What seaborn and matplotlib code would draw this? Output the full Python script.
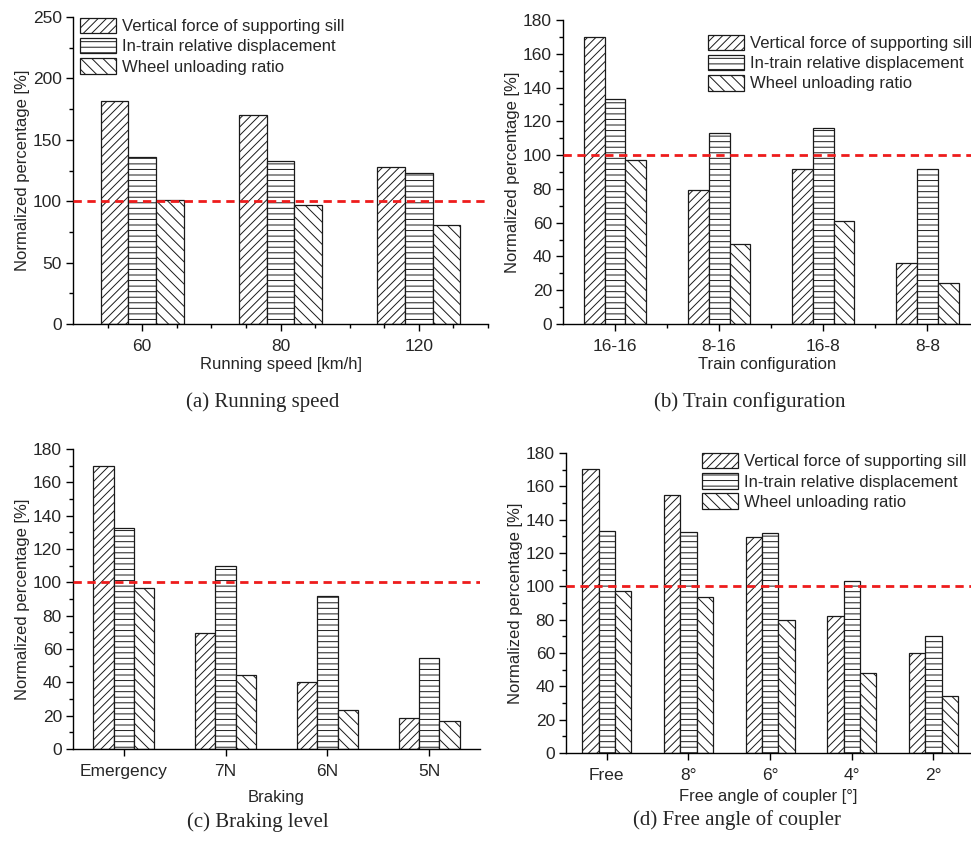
import matplotlib
matplotlib.use("Agg")
import matplotlib.pyplot as plt
import seaborn as sns
import pandas as pd
import numpy as np
from matplotlib.patches import Patch
from matplotlib.ticker import MultipleLocator, FixedLocator

# ---------------- data ----------------
series = ["Vertical force of supporting sill",
          "In-train relative displacement",
          "Wheel unloading ratio"]

speed_cats = ["60", "80", "120"]
speed_sill = [182, 170, 128]
speed_disp = [136, 133, 123]
speed_wheel = [101, 97, 81]

config_cats = ["16-16", "8-16", "16-8", "8-8"]
config_sill = [170, 79.5, 92, 36]
config_disp = [133, 113, 116, 91.5]
config_wheel = [97, 47.5, 61, 24]

brake_cats = ["Emergency", "7N", "6N", "5N"]
brake_sill = [170, 69.5, 40.5, 18.5]
brake_disp = [132.5, 110, 92, 54.5]
brake_wheel = [96.5, 44.5, 23.5, 17]

angle_cats = ["Free", "8°", "6°", "4°", "2°"]
angle_sill = [170.5, 155, 129.5, 82.5, 60]
angle_disp = [133, 132.5, 132, 103, 70.5]
angle_wheel = [97, 93.5, 80, 48, 34.5]

hatches = ["////", "---", "\\\\\\"]

sns.set_style("ticks")
plt.rcParams["font.family"] = ["Liberation Sans", "DejaVu Sans"]
plt.rcParams["hatch.linewidth"] = 0.7
plt.rcParams["axes.linewidth"] = 1.0

W, H = 971, 844
fig = plt.figure(figsize=(W / 100, H / 100), dpi=100)


def ax_px(left, top, right, bottom):
    return fig.add_axes([left / W, 1 - bottom / H, (right - left) / W, (bottom - top) / H])


def panel(ax, cats, vals, xlabel, ylim, ymajor, yminor, xlim, xminor=None,
          legend_anchor=None, xlabelpad=2):
    rows = []
    for s, v in zip(series, vals):
        for c, y in zip(cats, v):
            rows.append({"cat": c, "series": s, "value": y})
    df = pd.DataFrame(rows)
    sns.barplot(data=df, x="cat", y="value", hue="series", order=cats,
                hue_order=series, width=0.6, ax=ax, legend=False,
                palette=["white"] * 3, edgecolor="#1a1a1a", linewidth=0.9,
                errorbar=None, saturation=1)
    for cont, h in zip(ax.containers, hatches):
        for p in cont:
            p.set_hatch(h)
            p.set_facecolor("white")
            p.set_edgecolor("#1a1a1a")
    ax.axhline(100, color="#ee1c1c", lw=2, linestyle=(0, (3, 2)), zorder=5)
    ax.set_ylim(*ylim)
    ax.set_xlim(*xlim)
    ax.yaxis.set_major_locator(MultipleLocator(ymajor))
    ax.yaxis.set_minor_locator(MultipleLocator(yminor))
    if xminor is not None:
        ax.xaxis.set_minor_locator(FixedLocator(xminor))
    ax.set_xlabel(xlabel, fontsize=12, labelpad=xlabelpad)
    ax.set_ylabel("Normalized percentage [%]", fontsize=12, labelpad=2)
    ax.tick_params(axis="both", which="major", direction="out", length=5,
                   width=1, labelsize=12.5, color="black", pad=3)
    ax.tick_params(axis="both", which="minor", direction="out", length=3,
                   width=1, color="black")
    ax.tick_params(axis="x", which="major", pad=6)
    for s in ["top", "right"]:
        ax.spines[s].set_visible(False)
    for s in ["left", "bottom"]:
        ax.spines[s].set_color("black")
    if legend_anchor is not None:
        handles = [Patch(facecolor="white", edgecolor="#1a1a1a", hatch=h,
                         linewidth=0.9) for h in hatches]
        ax.legend(handles, series, loc="upper left", bbox_to_anchor=legend_anchor,
                  frameon=False, fontsize=12, borderpad=0, borderaxespad=0,
                  handlelength=2.15, handleheight=1.05, handletextpad=0.35,
                  labelspacing=0.22)


ax_a = ax_px(73, 17, 488, 324)
panel(ax_a, speed_cats, [speed_sill, speed_disp, speed_wheel],
      "Running speed [km/h]", (0, 250), 50, 25, (-0.5, 2.5),
      xminor=[-0.25, 0.25, 0.5, 0.75, 1.25, 1.5, 1.75, 2.25, 2.5],
      legend_anchor=(0.017, 0.997))

ax_b = ax_px(563, 20, 971, 324)
panel(ax_b, config_cats, [config_sill, config_disp, config_wheel],
      "Train configuration", (0, 180), 20, 10, (-0.5, 3.42),
      xminor=[0.5, 1.5, 2.5], legend_anchor=(0.355, 0.951))

ax_c = ax_px(73, 449, 480, 749)
panel(ax_c, brake_cats, [brake_sill, brake_disp, brake_wheel],
      "Braking", (0, 180), 20, 10, (-0.5, 3.5), xlabelpad=8)

ax_d = ax_px(566, 453, 971, 753)
panel(ax_d, angle_cats, [angle_sill, angle_disp, angle_wheel],
      "Free angle of coupler [°]", (0, 180), 20, 10, (-0.5, 4.46),
      legend_anchor=(0.336, 1.0), xlabelpad=4)

cap = dict(fontsize=15, family=["Liberation Serif", "DejaVu Serif"],
           ha="center", va="center")
fig.text(263 / W, 1 - 402 / H, "(a) Running speed", **cap)
fig.text(750 / W, 1 - 402 / H, "(b) Train configuration", **cap)
fig.text(258 / W, 1 - 822 / H, "(c) Braking level", **cap)
fig.text(737 / W, 1 - 820 / H, "(d) Free angle of coupler", **cap)

fig.savefig("out.png", dpi=100)
